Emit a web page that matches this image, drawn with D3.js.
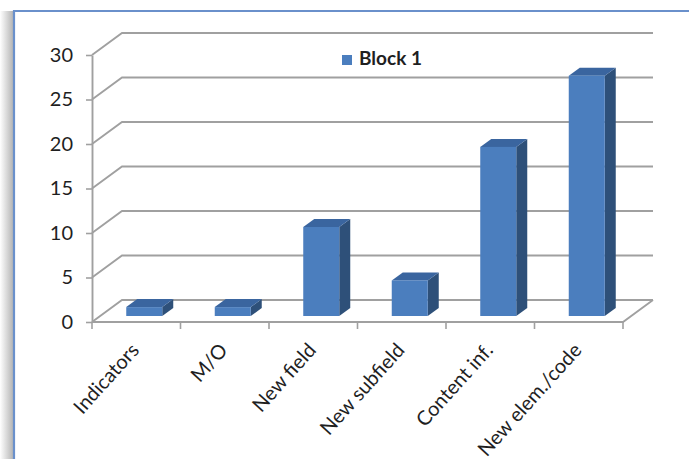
<!DOCTYPE html>
<html>
<head>
<meta charset="utf-8">
<script src="https://cdn.jsdelivr.net/npm/d3@7"></script>
<style>
  body { margin: 0; background: #fff; }
  svg { display: block; }
  text { font-family: Lato, "Open Sans", sans-serif; }
</style>
</head>
<body>
<svg id="chart" width="689" height="459"></svg>
<script>
// Chart data
const categories = ["Indicators", "M/O", "New field", "New subfield", "Content inf.", "New elem./code"];
const block1 = [1, 1, 10, 4, 19, 27];
const yTicks = [0, 5, 10, 15, 20, 25, 30];
const seriesName = "Block 1";

const W = 689, H = 459;
const svg = d3.select("#chart");

// Pseudo-3D geometry: front plane, back wall offset, bar placement in depth
const wall = { dx: 30, dy: -22 };
const barOff = { dx: 8, dy: -6 };
const barDepth = { dx: 11, dy: -8 };
const barW = 36;

const x = d3.scaleBand().domain(categories).range([92, 623]);
const y = d3.scaleLinear().domain([0, 30]).range([322, 55]);

const colors = { front: "#4b7ebe", side: "#2e5079", top: "#3a659f", grid: "#a0a0a0", text: "#1f1f1f" };

// Frame: soft shadow on the left, blue border lines
const defs = svg.append("defs");
const grad = defs.append("linearGradient").attr("id", "shade").attr("x1", 0).attr("x2", 1);
grad.append("stop").attr("offset", 0).attr("stop-color", "#ffffff");
grad.append("stop").attr("offset", 1).attr("stop-color", "#b5b5b5");
svg.append("rect").attr("x", 0).attr("y", 11).attr("width", 13).attr("height", H - 11).attr("fill", "url(#shade)");
svg.append("line").attr("x1", 14).attr("x2", 14).attr("y1", 10).attr("y2", H)
  .attr("stroke", "#6a90cb").attr("stroke-width", 2.2);
svg.append("line").attr("x1", 13).attr("x2", W).attr("y1", 11).attr("y2", 11)
  .attr("stroke", "#6a90cb").attr("stroke-width", 2);

const plot = svg.append("g");
const xStart = x.range()[0], xEnd = x.range()[1];

// Gridlines: diagonal on the side wall, then across the back wall
plot.append("g").selectAll("path").data(yTicks).join("path")
  .attr("d", v => {
    const yy = y(v);
    return `M${xStart},${yy} L${xStart + wall.dx},${yy + wall.dy} L${xEnd + wall.dx},${yy + wall.dy}`;
  })
  .attr("fill", "none").attr("stroke", colors.grid).attr("stroke-width", 1.9);

// Floor front edge and right edge
plot.append("path")
  .attr("d", `M${xStart},${y(0)} L${xEnd},${y(0)} L${xEnd + wall.dx},${y(0) + wall.dy}`)
  .attr("fill", "none").attr("stroke", colors.grid).attr("stroke-width", 1.9);

// Category tick marks at band edges
const edges = categories.map(c => x(c)).concat([xEnd]);
plot.append("g").selectAll("line").data(edges).join("line")
  .attr("x1", d => d).attr("x2", d => d)
  .attr("y1", y(0)).attr("y2", y(0) + 7)
  .attr("stroke", colors.grid).attr("stroke-width", 1.6);

// Value axis
const yAxis = plot.append("g")
  .attr("transform", `translate(${xStart},0)`)
  .call(d3.axisLeft(y).tickValues(yTicks).tickSize(6).tickSizeOuter(0).tickPadding(13));
yAxis.select(".domain").attr("stroke", colors.grid).attr("stroke-width", 1.9);
yAxis.selectAll(".tick line").attr("stroke", colors.grid).attr("stroke-width", 1.6);
yAxis.selectAll(".tick text")
  .attr("fill", colors.text).style("font-size", "20px").style("font-family", "Lato, sans-serif");

// Bars as boxes: front face, side face, top face
const bars = plot.append("g").selectAll("g").data(categories.map((c, i) => ({ c, v: block1[i] }))).join("g");
const bx = d => x(d.c) + x.bandwidth() / 2 - barW / 2 + barOff.dx;
const yb = y(0) + barOff.dy;
const yt = d => y(d.v) + barOff.dy;

bars.append("path")
  .attr("d", d => {
    const x1 = bx(d) + barW, t = yt(d);
    return `M${x1},${t} L${x1 + barDepth.dx},${t + barDepth.dy} L${x1 + barDepth.dx},${yb + barDepth.dy} L${x1},${yb} Z`;
  })
  .attr("fill", colors.side);
bars.append("path")
  .attr("d", d => {
    const x0 = bx(d), t = yt(d);
    return `M${x0},${t} L${x0 + barDepth.dx},${t + barDepth.dy} L${x0 + barW + barDepth.dx},${t + barDepth.dy} L${x0 + barW},${t} Z`;
  })
  .attr("fill", colors.top);
bars.append("rect")
  .attr("x", bx).attr("y", yt)
  .attr("width", barW).attr("height", d => yb - yt(d))
  .attr("fill", colors.front);

// Rotated category labels
plot.append("g").selectAll("text").data(categories).join("text")
  .attr("transform", c => `translate(${x(c) + x.bandwidth() / 2 + 4},${y(0) + 29}) rotate(-48)`)
  .attr("text-anchor", "end")
  .attr("fill", colors.text)
  .style("font-size", "20px")
  .text(c => c);

// Legend
const legend = svg.append("g").attr("transform", "translate(342,55)");
legend.append("rect").attr("width", 10).attr("height", 10).attr("fill", colors.front);
legend.append("text").attr("x", 17).attr("y", 10)
  .attr("fill", colors.text).style("font-size", "19px").style("font-weight", "bold")
  .text(seriesName);
</script>
</body>
</html>
